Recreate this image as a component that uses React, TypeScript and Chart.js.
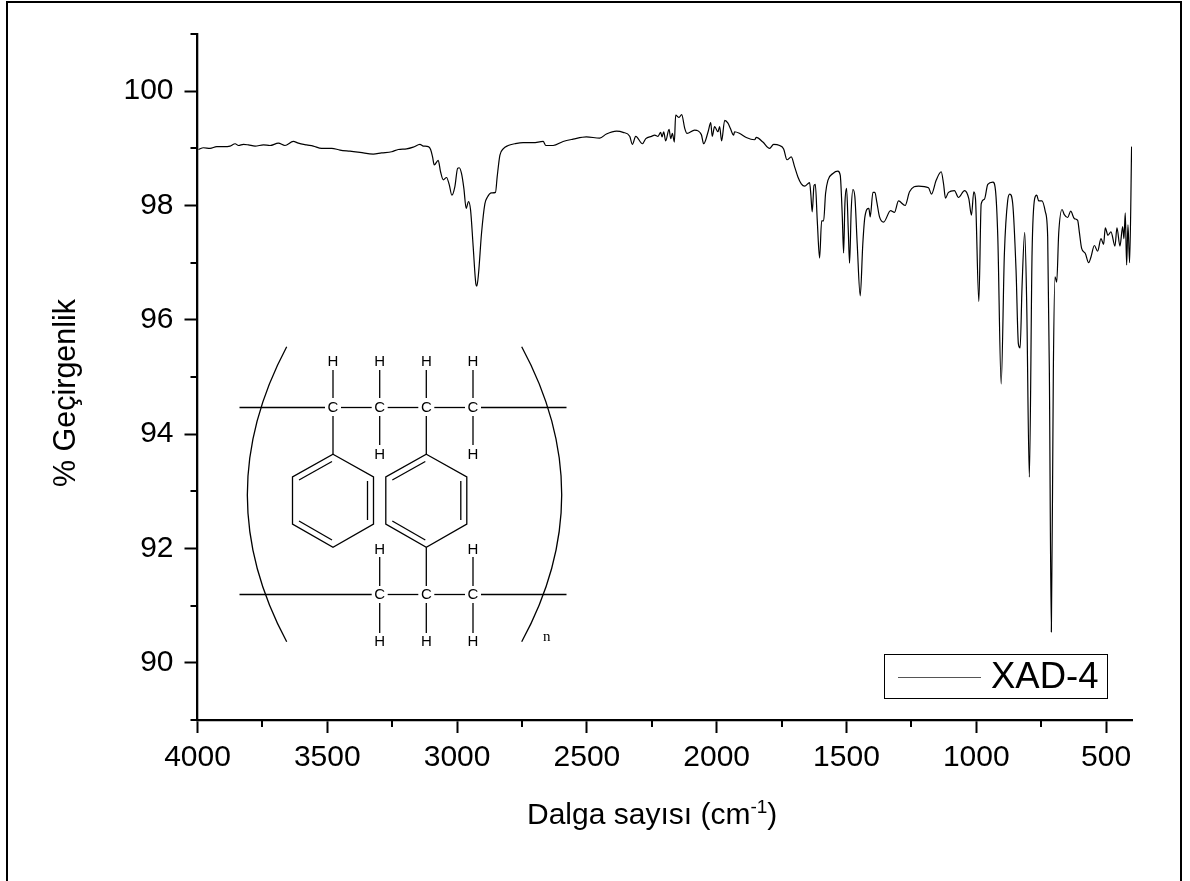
import React, { useEffect, useRef } from "react";
import { Chart, registerables } from "chart.js";

Chart.register(...registerables);

const seriesName = "XAD-4";
const xTitleParts = ["Dalga sayısı (cm", "-1", ")"];
const yTitle = "% Geçirgenlik";

const wavenumbers = [
  3996.4,3977,3951.5,3926,3900,3874.5,3855,3842,3823,3804,3778,3746,3720.6,3688.5,3663,3631,3611.5,3579.5,3554,3521.7,3483,3451,3412.7,3374,3323,3291,3252,3226.6,3194.5,3169,3143,3130,3111,3102,3094.5,3088,3072.7,3063.7,3053.4,3040.6,3030,3020,3008.5,2998,2991.8,2983,2973.9,2965,2956,2948,2938,2927.7,2923.8,2917.4,2905.9,2893,2884,2867,2852,2845.6,2835,2822.5,2803,2777.6,2745.5,2707,2668.5,2658,2630,2591.5,2553,2502,2450.4,2424.7,2386,2360.6,2335,2324.7,2311.8,2286,2273,2251,2238.7,2226,2215.6,2210.5,2204,2196.4,2183.5,2177,2170.7,2163,2158,2145,2134.7,2123,2114,2085,2059,2050,2033,2023,2017,2008,1995,1988.5,1981,1969,1956.5,1947.5,1934.6,1931,1911,1886,1854,1847,1822,1796,
  1780.6,1757.5,1742,1729,1712.6,1700,1687,1674,1661,1642,1637,1632,1625,1620,1612.5,1603.5,1595.6,1588,1580.5,1571.5,1552,1533,1524,1516,1511,1506,1499.6,1493,1488,1481.7,1475,1467.6,1458.6,1447,1437,1429,1413.7,1408.5,1398,1390.6,1383,1372.6,1357,1330,1315,1299.5,1274,1257,1222,1184,1172.5,1154.5,1135,1126,1118.5,1107,1084,1068.5,1045,1028.7,1018.5,1009.5,1003,990,981,968.5,955.6,936,926,917,904,891.6,878.8,870.8,859.5,846.7,837.7,831,823.6,813.3,805.6,795.4,785,775,767,759.4,746.6,733.8,724.8,718.4,710.7,703,696.6,690,682.4,669.6,660.7,647.8,636.3,622,609.3,603,594,579.8,567,558,545,532.4,519.5,509.3,503,492.6,481,465.6,458,446.4,436,431,425.9,420.7,415.6,409.2,401.5,
];

const transmittance = [
  98.98,99.01,99,99.03,99.03,99.04,99.08,99.05,99.07,99.06,99.04,99.06,99.05,99.09,99.05,99.12,99.09,99.06,99.04,99,99,98.97,98.95,98.93,98.9,98.92,98.94,98.98,98.99,99.02,99.07,99.04,99.03,98.98,98.85,98.71,98.79,98.59,98.45,98.49,98.36,98.18,98.33,98.65,98.66,98.56,98.3,97.95,98.07,97.92,97.28,96.63,96.59,96.81,97.51,98.03,98.14,98.22,98.23,98.5,98.88,98.99,99.05,99.08,99.1,99.1,99.12,99.05,99.05,99.12,99.16,99.2,99.18,99.25,99.3,99.28,99.21,99.07,99.21,99.08,99.17,99.21,99.23,99.21,99.28,99.2,99.29,99.13,99.33,99.17,99.26,99.11,99.58,99.54,99.59,99.35,99.26,99.32,99.24,99.08,99.29,99.45,99.21,99.38,99.29,99.38,99.13,99.49,99.44,99.35,99.23,99.29,99.26,99.19,99.15,99.19,99.11,99,
  99.07,99.05,98.99,98.8,98.85,98.68,98.5,98.38,98.34,98.4,98.18,97.89,98.35,98.37,97.74,97.08,97.73,97.73,98.21,98.44,98.56,98.6,98.53,97.8,97.17,98.03,98.3,97.57,96.99,97.92,98.28,98.15,97.33,96.42,97.33,97.8,97.95,97.8,98.23,98.23,98.06,97.8,97.71,97.91,97.88,98.08,98,98.24,98.34,98.31,98.2,98.44,98.59,98.38,98.13,98.23,98.26,98.14,98.26,98.12,97.83,98.24,98.12,96.32,98.03,98.11,98.37,98.41,98.27,97.45,94.88,97.16,98.09,98.2,98.03,96.87,95.58,95.51,96.58,97.53,96.28,93.25,97.16,98.12,98.18,98.08,98.08,97.89,97.45,95.12,90.54,95.12,96.75,96.66,97.51,97.93,97.84,97.79,97.9,97.77,97.74,97.54,97.25,97.16,97,97.1,97.3,97.2,97.42,97.32,97.61,97.48,97.54,97.29,97.61,97.29,97.63,97.42,97.87,96.96,97.66,97,99.03,
];

const FONT = '"Liberation Sans", Arial, sans-serif';
const X_MAJOR = 500;

function drawStructure(ctx: CanvasRenderingContext2D) {
  const seg = (a: number, b: number, c: number, d: number) => {
    ctx.beginPath();
    ctx.moveTo(a, b);
    ctx.lineTo(c, d);
    ctx.stroke();
  };
  const atom = (t: string, x: number, y: number) => ctx.fillText(t, x, y);
  ctx.save();
  ctx.strokeStyle = "#000";
  ctx.fillStyle = "#000";
  ctx.lineWidth = 1.3;
  ctx.textAlign = "center";
  ctx.textBaseline = "middle";
  ctx.font = `15px ${FONT}`;
  const cols = [333, 379.7, 426.3, 473];
  const topY = 407.5, lowY = 594.5;

  const chain = (y: number, xs: number[]) => {
    let from = 239.5;
    for (const x of xs) {
      seg(from, y, x - 8, y);
      from = x + 8;
      atom("C", x, y);
    }
    seg(from, y, 566.5, y);
  };
  chain(topY, cols);
  chain(lowY, cols.slice(1));

  for (const x of cols) {
    atom("H", x, 362);
    seg(x, 370, x, 398);
  }
  for (const x of [cols[1], cols[3]]) {
    atom("H", x, 455);
    seg(x, 416, x, 445);
  }
  seg(cols[0], 416, cols[0], 454);
  seg(cols[2], 416, cols[2], 454);

  for (const cx of [cols[0], cols[2]]) {
    const p = [[0, 454.3], [40.5, 477], [40.5, 524], [0, 547.3], [-40.5, 524], [-40.5, 477]];
    ctx.beginPath();
    p.forEach(([dx, y], i) => (i ? ctx.lineTo(cx + dx, y) : ctx.moveTo(cx + dx, y)));
    ctx.closePath();
    ctx.stroke();
    seg(cx - 34, 480, cx - 1, 461.5);
    seg(cx + 34.5, 481, cx + 34.5, 520);
    seg(cx - 34, 521, cx - 1, 540);
  }

  seg(cols[2], 547.3, cols[2], 586);
  for (const x of [cols[1], cols[3]]) {
    atom("H", x, 549.5);
    seg(x, 557, x, 586);
  }
  for (const x of cols.slice(1)) {
    atom("H", x, 641.5);
    seg(x, 603, x, 633);
  }

  ctx.beginPath();
  ctx.moveTo(286.7, 346.7);
  ctx.quadraticCurveTo(208, 495, 286.7, 641.7);
  ctx.stroke();
  ctx.beginPath();
  ctx.moveTo(521.7, 346.7);
  ctx.quadraticCurveTo(601.7, 495, 521.7, 641.7);
  ctx.stroke();

  ctx.font = '15px "Liberation Serif", serif';
  atom("n", 546.7, 637);
  ctx.restore();
}

const decorations = {
  id: "decorations",
  afterDraw(chart: any) {
    const { ctx, scales } = chart;
    ctx.save();
    ctx.strokeStyle = "#000";

    // minor ticks
    ctx.lineWidth = 2;
    for (const t of scales.x.ticks) {
      if (t.value % X_MAJOR === 0) continue;
      const px = Math.round(scales.x.getPixelForValue(t.value));
      ctx.beginPath();
      ctx.moveTo(px, chart.chartArea.bottom);
      ctx.lineTo(px, chart.chartArea.bottom + 7);
      ctx.stroke();
    }
    for (const t of scales.y.ticks) {
      if (t.value % 2 === 0) continue;
      const py = Math.round(scales.y.getPixelForValue(t.value));
      ctx.beginPath();
      ctx.moveTo(chart.chartArea.left, py);
      ctx.lineTo(chart.chartArea.left - 7, py);
      ctx.stroke();
    }

    // page frame, open at the bottom
    ctx.lineWidth = 2;
    ctx.beginPath();
    ctx.moveTo(7, 881);
    ctx.lineTo(7, 2);
    ctx.lineTo(1181, 2);
    ctx.lineTo(1181, 881);
    ctx.stroke();

    // legend
    ctx.lineWidth = 1;
    ctx.strokeRect(884.5, 654.5, 223, 44);
    ctx.beginPath();
    ctx.moveTo(898, 677.5);
    ctx.lineTo(981, 677.5);
    ctx.strokeStyle = "#555";
    ctx.stroke();
    ctx.fillStyle = "#000";
    ctx.font = `36.5px ${FONT}`;
    ctx.textAlign = "left";
    ctx.textBaseline = "middle";
    ctx.fillText(chart.data.datasets[0].label, 991, 678);

    // axis titles
    ctx.font = `30px ${FONT}`;
    ctx.textBaseline = "alphabetic";
    ctx.textAlign = "left";
    const [a, b, c] = xTitleParts;
    let x = 527;
    ctx.fillText(a, x, 824);
    x += ctx.measureText(a).width;
    ctx.font = `19px ${FONT}`;
    ctx.fillText(b, x, 813);
    x += ctx.measureText(b).width;
    ctx.font = `30px ${FONT}`;
    ctx.fillText(c, x, 824);

    ctx.translate(75, 393);
    ctx.rotate(-Math.PI / 2);
    ctx.textAlign = "center";
    ctx.font = `30.5px ${FONT}`;
    ctx.fillText(yTitle, 0, 0);
    ctx.restore();

    drawStructure(ctx);
  },
};

export default function App() {
  const ref = useRef<HTMLCanvasElement>(null);
  useEffect(() => {
    const chart = new Chart(ref.current!, {
      type: "line",
      data: {
        datasets: [
          {
            label: seriesName,
            data: wavenumbers.map((x, i) => ({ x, y: transmittance[i] })),
            borderColor: "#000",
            borderWidth: 1.2,
            pointRadius: 0,
            cubicInterpolationMode: "monotone",
            fill: false,
          },
        ],
      },
      options: {
        responsive: false,
        animation: false,
        parsing: false,
        layout: { padding: { left: 0, top: 34, right: 58, bottom: 0 } },
        plugins: { legend: { display: false }, tooltip: { enabled: false }, title: { display: false } },
        scales: {
          x: {
            type: "linear",
            reverse: true,
            min: 400,
            max: 4000,
            afterFit: (s: any) => { s.height = 161; },
            border: { display: true, color: "#000", width: 2.3 },
            grid: {
              drawOnChartArea: false,
              drawTicks: true,
              tickLength: 13,
              tickWidth: 2,
              tickColor: (c: any) => (c.tick && c.tick.value % X_MAJOR === 0 ? "#000" : "rgba(0,0,0,0)"),
            },
            ticks: {
              stepSize: 250,
              includeBounds: false,
              autoSkip: false,
              maxRotation: 0,
              padding: 7,
              color: "#000",
              font: { family: FONT, size: 30 },
              callback: (v: any) => (v % X_MAJOR === 0 ? String(v) : ""),
            },
          },
          y: {
            type: "linear",
            min: 89,
            max: 101,
            afterFit: (s: any) => { s.width = 197.5; },
            border: { display: true, color: "#000", width: 2.3 },
            grid: {
              drawOnChartArea: false,
              drawTicks: true,
              tickLength: 13,
              tickWidth: 2,
              tickColor: (c: any) => (c.tick && c.tick.value % 2 === 0 ? "#000" : "rgba(0,0,0,0)"),
            },
            ticks: {
              stepSize: 1,
              includeBounds: false,
              autoSkip: false,
              padding: 11,
              color: "#000",
              font: { family: FONT, size: 30 },
              callback: (v: any) => (v % 2 === 0 ? String(v) : ""),
            },
          },
        },
      },
      plugins: [decorations],
    } as any);
    return () => chart.destroy();
  }, []);
  return (
    <canvas
      ref={ref}
      width={1190}
      height={881}
      style={{ position: "absolute", left: 0, top: 0, display: "block" }}
    />
  );
}
